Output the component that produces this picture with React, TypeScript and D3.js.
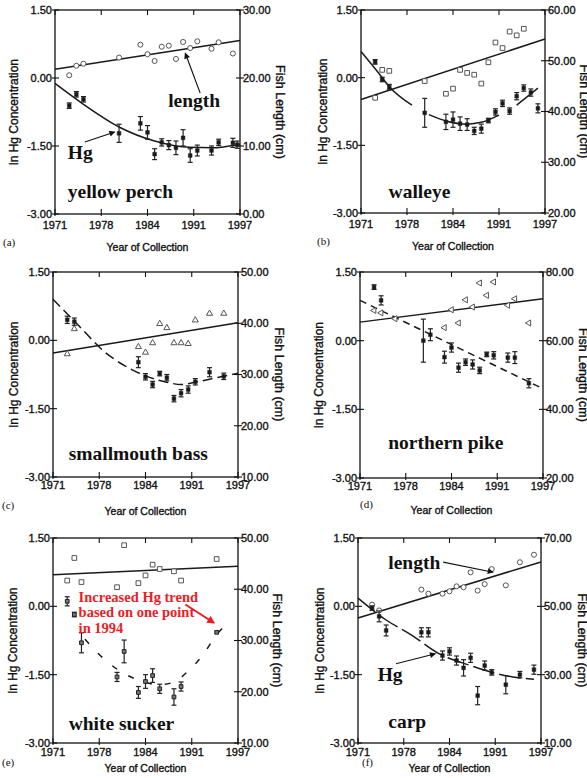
import React from "react";
import * as d3 from "d3";

// axis ticks shared by all six panels
const yearTicks = [1971, 1977.5, 1984, 1990.5, 1997];
const yearTickLabels = ["1971", "1978", "1984", "1991", "1997"];
const hgTicks = [1.5, 0, -1.5, -3];

// Hg rows are [year, ln Hg, error half-width]; length rows are [year, cm]
const perchHg = [
  [1973, -0.61, 0.06], [1974, -0.36, 0.06], [1975, -0.47, 0.06], [1980, -1.22, 0.2],
  [1983, -1.0, 0.15], [1984, -1.2, 0.15], [1985, -1.68, 0.12], [1986, -1.42, 0.08],
  [1987, -1.48, 0.1], [1988, -1.54, 0.15], [1989, -1.32, 0.18], [1990, -1.71, 0.15],
  [1991, -1.6, 0.12], [1993, -1.6, 0.1], [1994, -1.42, 0.07], [1996, -1.43, 0.1],
  [1996.6, -1.47, 0.08],
];
const perchLength = [
  [1973, 20.4], [1974, 21.8], [1975, 22.1], [1980, 23.0], [1983, 24.9], [1984, 23.5],
  [1985, 22.5], [1986, 24.6], [1987, 24.75], [1988, 22.8], [1989, 25.3], [1990, 24.4],
  [1991, 25.4], [1993, 24.3], [1994, 25.25], [1996, 23.6],
];
const perchLengthFit = [[1971, 21.3], [1997, 25.5]];
const perchHgTrend = [
  [[1971, -0.12], [1975, -0.58], [1980, -1.08], [1985, -1.39], [1990, -1.53], [1993, -1.54], [1997, -1.46]],
];

const walleyeHg = [
  [1973, 0.35, 0.05], [1974, -0.04, 0.05], [1975, -0.21, 0.06], [1980, -0.78, 0.32],
  [1983, -0.98, 0.17], [1984, -0.93, 0.17], [1985, -1.02, 0.15], [1986, -1.04, 0.13],
  [1987, -1.18, 0.08], [1988, -1.13, 0.1], [1989, -0.95, 0.05], [1990, -0.76, 0.07],
  [1991, -0.57, 0.07], [1992, -0.74, 0.07], [1993, -0.41, 0.08], [1994, -0.23, 0.07],
  [1995, -0.33, 0.08], [1996, -0.68, 0.1],
];
const walleyeLength = [
  [1973, 42.7], [1974, 48.2], [1975, 48.0], [1980, 46.0], [1983, 43.5], [1984, 44.5],
  [1985, 48.2], [1986, 47.6], [1987, 47.25], [1988, 45.5], [1989, 49.7], [1990, 53.6],
  [1991, 52.5], [1992, 55.75], [1993, 55.0], [1994, 56.3],
];
const walleyeLengthFit = [[1971, 42.35], [1997, 54.3]];
const walleyeHgTrend = [
  [[1971, 0.58], [1973.4, 0.12], [1975, -0.2], [1978.2, -0.61]],
  [[1980.6, -0.82], [1983, -0.96], [1986, -1.03], [1988, -0.99], [1990.5, -0.83]],
  [[1993, -0.61], [1996, -0.23]],
];

const bassHg = [
  [1973, 0.45, 0.08], [1974, 0.41, 0.08], [1983, -0.48, 0.12], [1984, -0.8, 0.07],
  [1985, -0.97, 0.07], [1986, -0.73, 0.05], [1987, -0.82, 0.07], [1988, -1.28, 0.07],
  [1989, -1.16, 0.08], [1990, -1.08, 0.08], [1991, -0.91, 0.07], [1993, -0.7, 0.1],
  [1995, -0.79, 0.07],
];
const bassLength = [
  [1973, 34.0], [1974, 38.9], [1983, 35.4], [1984, 34.3], [1985, 36.15], [1986, 39.9],
  [1987, 39.1], [1988, 36.15], [1989, 36.15], [1990, 36.0], [1991, 40.6], [1993, 41.9],
  [1995, 41.9],
];
const bassLengthFit = [[1971, 34.2], [1997, 40.1]];
const bassHgTrend = [
  [[1971, 0.9], [1975, 0.26], [1978, -0.22], [1981, -0.55], [1984, -0.78], [1987, -0.92],
   [1989, -0.97], [1991, -0.92], [1994, -0.82], [1997, -0.72]],
];

const pikeHg = [
  [1973, 1.17, 0.05], [1974, 0.88, 0.1], [1980, 0.0, 0.47], [1981, 0.13, 0.13],
  [1983, -0.36, 0.13], [1984, -0.15, 0.1], [1985, -0.59, 0.1], [1986, -0.47, 0.07],
  [1987, -0.52, 0.1], [1988, -0.65, 0.07], [1989, -0.3, 0.05], [1990, -0.32, 0.08],
  [1992, -0.37, 0.1], [1993, -0.37, 0.13], [1995, -0.93, 0.1],
];
const pikeLength = [
  [1973, 68.8], [1974, 68.1], [1976, 66.4], [1983, 63.8], [1984, 69.0], [1985, 65.15],
  [1986, 71.9], [1987, 69.8], [1988, 76.8], [1989, 73.2], [1990, 77.1], [1992, 70.3],
  [1993, 72.2], [1995, 65.15],
];
const pikeLengthFit = [[1971, 65.4], [1997, 72.2]];
const pikeHgTrend = [[[1971, 0.88], [1997, -1.05]]];

const suckerHg = [
  [1973, 0.11, 0.1], [1974, -0.18, 0.05], [1975, -0.8, 0.22], [1980, -1.55, 0.1],
  [1981, -0.99, 0.25], [1983, -1.89, 0.13], [1984, -1.65, 0.15], [1985, -1.52, 0.15],
  [1986, -1.81, 0.1], [1988, -1.99, 0.18], [1989, -1.76, 0.1], [1994, -0.57, 0],
];
const suckerLength = [
  [1973, 41.7], [1974, 46.1], [1975, 41.4], [1980, 40.4], [1981, 48.6], [1983, 41.2],
  [1984, 42.7], [1985, 44.8], [1986, 43.95], [1988, 43.5], [1989, 41.7], [1994, 45.9],
];
const suckerLengthFit = [[1971, 42.85], [1997, 44.5]];
const suckerHgTrend = [
  [[1975.5, -0.72], [1977, -0.98], [1980, -1.38], [1983, -1.62], [1986, -1.72], [1988, -1.66],
   [1990, -1.42], [1992, -1.08], [1994, -0.62], [1995.3, -0.4]],
];

const carpHg = [
  [1973, -0.04, 0.05], [1974, -0.22, 0.12], [1975, -0.53, 0.12], [1980, -0.57, 0.1],
  [1981, -0.57, 0.1], [1983, -1.08, 0.1], [1984, -0.99, 0.08], [1985, -1.19, 0.1],
  [1986, -1.35, 0.18], [1987, -1.13, 0.1], [1988, -1.96, 0.2], [1989, -1.3, 0.1],
  [1990, -1.45, 0.06], [1992, -1.72, 0.2], [1994, -1.5, 0.07], [1996, -1.39, 0.1],
];
const carpLength = [
  [1973, 50.5], [1974, 48.8], [1980, 54.9], [1981, 53.7], [1983, 53.7], [1984, 54.4],
  [1985, 55.85], [1986, 55.6], [1987, 59.95], [1988, 54.6], [1989, 56.5], [1990, 60.9],
  [1992, 56.15], [1994, 62.9], [1996, 65.1],
];
const carpLengthFit = [[1971, 46.6], [1997, 63.0]];
const carpHgTrend = [
  [[1971, 0.18], [1975, -0.3], [1978.5, -0.62], [1982.5, -1.04], [1987, -1.3], [1990, -1.45],
   [1993, -1.55], [1996, -1.6]],
];

const SANS = "'Liberation Sans', Arial, sans-serif";
const SERIF = "'Liberation Serif', 'Times New Roman', serif";

const panels = [
  {
    letter: "(a)", name: "yellow perch", hg: perchHg, len: perchLength, lenFit: perchLengthFit,
    trend: perchHgTrend, dash: null, lenDomain: [0, 30], lenTicks: [0, 10, 20, 30], shape: "circle",
    x0: 55, x1: 240, y0: 10, y1: 214, tickDy: 15, titleDy: 37, letterX: 3, letterDy: 32, leftTitleX: 14, rightTitleX: 280,
    nameAt: [1972.8, -2.65],
    notes: [
      { text: "length", at: [1986.9, -0.64], from: [1991.4, -0.33], to: [1989.3, 0.55] },
      { text: "Hg", at: [1972.8, -1.79], from: [1975.2, -1.41], to: [1979.4, -1.19] },
    ],
  },
  {
    letter: "(b)", name: "walleye", hg: walleyeHg, len: walleyeLength, lenFit: walleyeLengthFit,
    trend: walleyeHgTrend, dash: null, lenDomain: [20, 60], lenTicks: [20, 30, 40, 50, 60], shape: "square",
    x0: 361, x1: 545, y0: 10, y1: 213, tickDy: 15, titleDy: 37, letterX: 317, letterDy: 32, leftTitleX: 323, rightTitleX: 584,
    nameAt: [1974.9, -2.67], notes: [],
  },
  {
    letter: "(c)", name: "smallmouth bass", hg: bassHg, len: bassLength, lenFit: bassLengthFit,
    trend: bassHgTrend, dash: "10,5", lenDomain: [10, 50], lenTicks: [10, 20, 30, 40, 50], shape: "triangle",
    x0: 53, x1: 238, y0: 272, y1: 477, tickDy: 12, titleDy: 38, letterX: 2, letterDy: 32, leftTitleX: 14, rightTitleX: 279,
    nameAt: [1973.2, -2.62], notes: [],
  },
  {
    letter: "(d)", name: "northern pike", hg: pikeHg, len: pikeLength, lenFit: pikeLengthFit,
    trend: pikeHgTrend, dash: "7,5", lenDomain: [20, 80], lenTicks: [20, 40, 60, 80], shape: "triangleLeft",
    x0: 360, x1: 543, y0: 272, y1: 478, tickDy: 12, titleDy: 36, letterX: 360, letterDy: 30, leftTitleX: 319, rightTitleX: 583,
    nameAt: [1975.0, -2.36], notes: [],
  },
  {
    letter: "(e)", name: "white sucker", hg: suckerHg, len: suckerLength, lenFit: suckerLengthFit,
    trend: suckerHgTrend, dash: "6,13", lenDomain: [10, 50], lenTicks: [10, 20, 30, 40, 50], shape: "square",
    x0: 53, x1: 238, y0: 538, y1: 743, tickDy: 13, titleDy: 29, letterX: 2, letterDy: 23, leftTitleX: 13, rightTitleX: 277,
    nameAt: [1973.2, -2.71], greyHg: true,
    red: { lines: ["Increased Hg trend", "based on one point", "in 1994"], at: [1974.6, 0.1], from: [1989.6, 0.04], to: [1993.6, -0.36] },
    notes: [],
  },
  {
    letter: "(f)", name: "carp", hg: carpHg, len: carpLength, lenFit: carpLengthFit,
    trend: carpHgTrend, dash: "22,5", lenDomain: [10, 70], lenTicks: [10, 30, 50, 70], shape: "circle",
    x0: 358, x1: 541, y0: 538, y1: 743, tickDy: 13, titleDy: 29, letterX: 362, letterDy: 23, leftTitleX: 320, rightTitleX: 582,
    nameAt: [1975.3, -2.67],
    notes: [
      { text: "length", at: [1975.3, 0.82], from: [1983.1, 0.97], to: [1990.2, 0.75] },
      { text: "Hg", at: [1973.8, -1.63], from: [1976.4, -1.26], to: [1982.0, -1.04] },
    ],
  },
];

// scanned text looks heavier than plain regular weight
const inkText = { fill: "#111", stroke: "#111", strokeWidth: 0.35 };

function Panel({ p }: any) {
  const x = d3.scaleLinear().domain([1971, 1997]).range([p.x0, p.x1]);
  const y = d3.scaleLinear().domain([-3, 1.5]).range([p.y1, p.y0]);
  const yR = d3.scaleLinear().domain(p.lenDomain).range([p.y1, p.y0]);
  const fitLine = d3.line<any>().x((d) => x(d[0])).y((d) => yR(d[1]));
  const trendLine = d3.line<any>().x((d) => x(d[0])).y((d) => y(d[1])).curve(d3.curveMonotoneX);

  const symType =
    p.shape === "circle" ? d3.symbolCircle : p.shape === "square" ? d3.symbolSquare : d3.symbolTriangle;
  const symSize = p.shape === "circle" ? 20 : p.shape === "square" ? 22 : 16;
  const lenSym = d3.symbol().type(symType).size(symSize)();
  const hgSym = d3.symbol().type(d3.symbolSquare).size(p.greyHg ? 14 : 14)();
  const midY = (p.y0 + p.y1) / 2;
  const midX = (p.x0 + p.x1) / 2;

  return (
    <g>
      {/* frame */}
      <rect x={p.x0} y={p.y0} width={p.x1 - p.x0} height={p.y1 - p.y0} fill="none" stroke="#111" strokeWidth={1.3} />
      {yearTicks.map((t, i) => (
        <g key={"xt" + i}>
          <line x1={x(t)} x2={x(t)} y1={p.y0} y2={p.y0 + 5} stroke="#111" strokeWidth={1.1} />
          <line x1={x(t)} x2={x(t)} y1={p.y1 - 5} y2={p.y1 + 2} stroke="#111" strokeWidth={1.1} />
          <text x={x(t)} y={p.y1 + p.tickDy} textAnchor="middle" fontFamily={SANS} fontSize={11} {...inkText}>
            {yearTickLabels[i]}
          </text>
        </g>
      ))}
      {hgTicks.map((t) => (
        <g key={"yt" + t}>
          <line x1={p.x0 - 3} x2={p.x0 + 4} y1={y(t)} y2={y(t)} stroke="#111" strokeWidth={1.1} />
          <text x={p.x0 - 3} y={y(t)} dy="0.36em" textAnchor="end" fontFamily={SANS} fontSize={11} {...inkText}>
            {t.toFixed(2)}
          </text>
        </g>
      ))}
      {p.lenTicks.map((t: number) => (
        <g key={"rt" + t}>
          <line x1={p.x1 - 4} x2={p.x1 + 4} y1={yR(t)} y2={yR(t)} stroke="#111" strokeWidth={1.1} />
          <text x={p.x1 + 3} y={yR(t)} dy="0.36em" textAnchor="start" fontFamily={SANS} fontSize={11} {...inkText}>
            {t.toFixed(2)}
          </text>
        </g>
      ))}
      <text x={midX} y={p.y1 + p.titleDy} textAnchor="middle" fontFamily={SANS} fontSize={10.5} {...inkText}>
        Year of Collection
      </text>
      <text transform={`translate(${p.leftTitleX},${midY}) rotate(-90)`} dy="0.35em" textAnchor="middle"
        fontFamily={SANS} fontSize={12} {...inkText}>
        ln Hg Concentration
      </text>
      <text transform={`translate(${p.rightTitleX},${midY}) rotate(90)`} dy="0.35em" textAnchor="middle"
        fontFamily={SANS} fontSize={12.5} {...inkText}>
        Fish Length (cm)
      </text>
      <text x={p.letterX} y={p.y1 + p.letterDy} fontFamily={SERIF} fontSize={11} fill="#111">
        {p.letter}
      </text>

      {/* fitted lines */}
      {p.trend.map((seg: any, i: number) => (
        <path key={"tr" + i} d={trendLine(seg) || ""} fill="none" stroke="#1a1a1a" strokeWidth={1.5}
          strokeDasharray={p.dash || undefined} />
      ))}
      <path d={fitLine(p.lenFit) || ""} fill="none" stroke="#1a1a1a" strokeWidth={1.5} />

      {/* length markers */}
      {p.len.map((d: number[], i: number) => (
        <path key={"lm" + i} d={lenSym || ""}
          transform={`translate(${x(d[0])},${yR(d[1])})${p.shape === "triangleLeft" ? " rotate(-90)" : ""}`}
          fill="white" stroke="#555" strokeWidth={1} />
      ))}

      {/* Hg means with error bars */}
      {p.hg.map((d: number[], i: number) => (
        <g key={"hg" + i}>
          {d[2] > 0 && (
            <g stroke="#222" strokeWidth={1.2}>
              <line x1={x(d[0])} x2={x(d[0])} y1={y(d[1] - d[2])} y2={y(d[1] + d[2])} />
              <line x1={x(d[0]) - 2.5} x2={x(d[0]) + 2.5} y1={y(d[1] - d[2])} y2={y(d[1] - d[2])} />
              <line x1={x(d[0]) - 2.5} x2={x(d[0]) + 2.5} y1={y(d[1] + d[2])} y2={y(d[1] + d[2])} />
            </g>
          )}
          <path d={hgSym || ""} transform={`translate(${x(d[0])},${y(d[1])})`}
            fill={p.greyHg ? "#777" : "#1a1a1a"} stroke="#222" strokeWidth={p.greyHg ? 1 : 0.5} />
        </g>
      ))}

      {/* labels */}
      <text x={x(p.nameAt[0])} y={y(p.nameAt[1])} fontFamily={SERIF} fontWeight="bold" fontSize={19.5} fill="#111">
        {p.name}
      </text>
      {p.notes.map((n: any, i: number) => (
        <g key={"n" + i}>
          <text x={x(n.at[0])} y={y(n.at[1])} fontFamily={SERIF} fontWeight="bold" fontSize={19.5} fill="#111">
            {n.text}
          </text>
          <line x1={x(n.from[0])} y1={y(n.from[1])} x2={x(n.to[0])} y2={y(n.to[1])} stroke="#111"
            strokeWidth={1.1} markerEnd="url(#headBlack)" />
        </g>
      ))}
      {p.red && (
        <g>
          <text x={x(p.red.at[0])} y={y(p.red.at[1])} fontFamily={SERIF} fontWeight="bold" fontSize={14.5} fill="#ee1c24">
            {p.red.lines.map((l: string, i: number) => (
              <tspan key={i} x={x(p.red.at[0])} dy={i === 0 ? 0 : 15.6}>{l}</tspan>
            ))}
          </text>
          <line x1={x(p.red.from[0])} y1={y(p.red.from[1])} x2={x(p.red.to[0])} y2={y(p.red.to[1])}
            stroke="#ee1c24" strokeWidth={2} markerEnd="url(#headRed)" />
        </g>
      )}
    </g>
  );
}

export default function App() {
  return (
    <svg width={587} height={778} style={{ position: "absolute", left: 0, top: 0, background: "white" }}>
      <defs>
        <marker id="headBlack" viewBox="0 0 10 10" refX={9} refY={5} markerWidth={8} markerHeight={6}
          markerUnits="userSpaceOnUse" orient="auto">
          <path d="M0,0 L10,5 L0,10 z" fill="#111" />
        </marker>
        <marker id="headRed" viewBox="0 0 10 10" refX={8} refY={5} markerWidth={9} markerHeight={8}
          markerUnits="userSpaceOnUse" orient="auto">
          <path d="M0,0 L10,5 L0,10 z" fill="#ee1c24" />
        </marker>
      </defs>
      <rect width={587} height={778} fill="white" />
      {panels.map((p) => (
        <Panel key={p.letter} p={p} />
      ))}
    </svg>
  );
}
